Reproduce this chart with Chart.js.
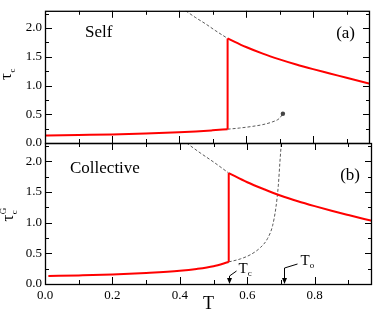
<!DOCTYPE html>
<html><head><meta charset="utf-8">
<script src="https://cdn.jsdelivr.net/npm/chart.js@4"></script>
<style>
html,body{margin:0;padding:0;background:#fff;}
#wrap{position:relative;width:374px;height:311px;overflow:hidden;}
canvas{position:absolute;left:0;top:0;}
#pre{position:absolute;left:-999px;top:0;font-family:"Liberation Serif";font-size:13px;}
</style></head><body>
<span id="pre">0.2 Self τ T</span>
<div id="wrap"><canvas id="c1" width="374" height="311"></canvas><canvas id="c2" width="374" height="311"></canvas></div>
<script>
// ---- data ----
const xTickVals = [0.0, 0.2, 0.4, 0.6, 0.8];
const xMinorVals = [0.1, 0.2, 0.3, 0.4, 0.5, 0.6, 0.7, 0.8, 0.9];
const yTickVals = [0.0, 0.5, 1.0, 1.5, 2.0];
const yMinorVals = [0.25, 0.5, 0.75, 1.0, 1.25, 1.5, 1.75, 2.0, 2.25];

// (a) Self
const selfLowT = [0, 0.1, 0.2, 0.3, 0.4, 0.45, 0.5, 0.545];
const selfLowV = [0.13, 0.14, 0.15, 0.165, 0.185, 0.20, 0.22, 0.24];
const selfHighT = [0.545, 0.6, 0.65, 0.7, 0.75, 0.8, 0.85, 0.9, 0.97];
const selfHighV = [1.82, 1.67, 1.555, 1.455, 1.365, 1.285, 1.21, 1.135, 1.03];
const selfDashUpT = [0.42, 0.45, 0.48, 0.51, 0.545];
const selfDashUpV = [2.3, 2.18, 2.07, 1.95, 1.82];
const selfDashLowT = [0.545, 0.58, 0.62, 0.65, 0.68, 0.70, 0.71];
const selfDashLowV = [0.24, 0.26, 0.29, 0.32, 0.37, 0.43, 0.51];

// (b) Collective
const collLowT = [0.01, 0.1, 0.2, 0.3, 0.4, 0.45, 0.5, 0.545];
const collLowV = [0.13, 0.14, 0.155, 0.18, 0.215, 0.245, 0.29, 0.36];
const collHighT = [0.545, 0.6, 0.65, 0.7, 0.75, 0.8, 0.85, 0.9, 0.97];
const collHighV = [1.81, 1.66, 1.545, 1.44, 1.35, 1.27, 1.195, 1.125, 1.03];
const collDashUpT = [0.42, 0.46, 0.5, 0.545];
const collDashUpV = [2.3, 2.14, 1.99, 1.81];
const collDashLowT = [0.545, 0.58, 0.61, 0.64, 0.66, 0.675, 0.685, 0.692, 0.697, 0.701];
const collDashLowV = [0.36, 0.41, 0.48, 0.60, 0.74, 0.95, 1.25, 1.6, 2.0, 2.3];

// annotations (temperatures marked on the T axis)
const markT = [0.547, 0.708];
const markLabel = ['T', 'T'];
const markSub = ['c', 'o'];

// ---- helpers ----
const SERIF = '"Liberation Serif", "Times New Roman", serif';
const pts = (T, V) => T.map((t, i) => ({x: t, y: V[i]}));
const RED = '#ff0000', GRAY = '#5a5a5a';
function redSet(data){ return {data, borderColor: RED, borderWidth: 2, pointRadius: 0, fill: false, cubicInterpolationMode: 'monotone'}; }
function dashSet(data, extra){ return Object.assign({data, borderColor: GRAY, borderWidth: 1, borderDash: [3, 2], pointRadius: 0, fill: false, cubicInterpolationMode: 'monotone'}, extra || {}); }

function framePlugin(opts){
  return {
    id: 'frame',
    afterDatasetsDraw(chart){
      const {ctx, chartArea: a, scales: {x, y}} = chart;
      ctx.save();
      ctx.strokeStyle = '#000'; ctx.lineWidth = 1;
      ctx.beginPath();
      xMinorVals.forEach(v => {
        const px = Math.round(x.getPixelForValue(v)) + 0.5;
        const L = xTickVals.some(m => Math.abs(m - v) < 1e-9) ? 7 : 4;
        ctx.moveTo(px, a.bottom); ctx.lineTo(px, a.bottom - L);
        ctx.moveTo(px, a.top); ctx.lineTo(px, a.top + L);
      });
      yMinorVals.forEach(v => {
        const py = Math.round(y.getPixelForValue(v)) + 0.5;
        const L = yTickVals.some(m => Math.abs(m - v) < 1e-9) ? 7 : 4;
        ctx.moveTo(a.left, py); ctx.lineTo(a.left + L, py);
        ctx.moveTo(a.right, py); ctx.lineTo(a.right - L, py);
      });
      ctx.stroke();
      ctx.lineWidth = 1.3;
      ctx.strokeRect(a.left + 0.5, a.top + 0.5, a.right - a.left - 1, a.bottom - a.top);
      // panel texts
      ctx.fillStyle = '#000';
      ctx.font = '17px ' + SERIF;
      ctx.textBaseline = 'middle';
      ctx.textAlign = 'left';
      ctx.fillText(opts.name, opts.nameX, a.top + opts.nameDy);
      ctx.textAlign = 'right';
      ctx.fillText(opts.tag, a.right - opts.tagDx, a.top + opts.tagDy);
      // y title: tau with sub/sup, rotated
      const cy = (a.top + a.bottom) / 2;
      ctx.save();
      ctx.translate(opts.titleX, cy + opts.titleDy);
      ctx.rotate(-Math.PI / 2);
      ctx.textAlign = 'left'; ctx.textBaseline = 'alphabetic';
      ctx.font = '17px ' + SERIF;
      ctx.fillText('τ', 0, 0);
      const w = ctx.measureText('τ').width;
      ctx.font = '9px ' + SERIF;
      ctx.fillText('c', w + 0.5, 4);
      if (opts.sup) ctx.fillText(opts.sup, w + 0.5, -7);
      ctx.restore();
      if (opts.annot) {
        const yb = a.bottom;
        ctx.fillStyle = '#000'; ctx.strokeStyle = '#000'; ctx.lineWidth = 1;
        opts.annot.forEach((an, i) => {
          const px = Math.round(x.getPixelForValue(markT[i])) + 0.5;
          ctx.beginPath();
          ctx.moveTo(px + an.dx, yb - an.len - an.dy);
          ctx.lineTo(px, yb - an.len);
          ctx.lineTo(px, yb - 5);
          ctx.stroke();
          ctx.beginPath();
          ctx.moveTo(px, yb); ctx.lineTo(px - 2.5, yb - 6); ctx.lineTo(px + 2.5, yb - 6); ctx.closePath();
          ctx.fill();
          ctx.font = '15px ' + SERIF; ctx.textAlign = 'left'; ctx.textBaseline = 'alphabetic';
          ctx.fillText(markLabel[i], px + an.tx, yb - an.ty);
          const tw = ctx.measureText(markLabel[i]).width;
          ctx.font = '9px ' + SERIF;
          ctx.fillText(markSub[i], px + an.tx + tw, yb - an.ty + 3);
        });
        ctx.font = '18px ' + SERIF; ctx.textAlign = 'center'; ctx.textBaseline = 'middle';
        ctx.fillText('T', (a.left + a.right) / 2, 304);
      }
      ctx.restore();
    }
  };
}

function makeChart(id, datasets, showX, padding, xH, popts){
  return new Chart(document.getElementById(id), {
    type: 'line',
    data: {datasets},
    options: {
      responsive: false, animation: false, devicePixelRatio: 1,
      layout: {padding},
      plugins: {legend: {display: false}, tooltip: {enabled: false}},
      scales: {
        x: {type: 'linear', min: 0, max: 0.97,
            grid: {display: false, drawTicks: false}, border: {display: false},
            ticks: {display: showX, color: '#000', padding: 4, maxRotation: 0, autoSkip: false,
                    font: {family: SERIF, size: 13}, callback: v => Number(v).toFixed(1)},
            afterBuildTicks: s => { s.ticks = xTickVals.map(v => ({value: v})); },
            afterFit: s => { s.height = xH; }},
        y: {type: 'linear', min: 0, max: 2.3,
            grid: {display: false, drawTicks: false}, border: {display: false},
            ticks: {color: '#000', padding: 3, autoSkip: false,
                    font: {family: SERIF, size: 13}, callback: v => Number(v).toFixed(1)},
            afterBuildTicks: s => { s.ticks = yTickVals.map(v => ({value: v})); },
            afterFit: s => { s.width = 45; }}
      }
    },
    plugins: [framePlugin(popts)]
  });
}

function build(){
  Chart.defaults.font.family = SERIF;
  const selfLowPts = pts(selfLowT, selfLowV);
  const selfHighPts = pts(selfHighT, selfHighV);
  const collLowPts = pts(collLowT, collLowV);
  const collHighPts = pts(collHighT, collHighV);
  const selfDashLowPts = pts(selfDashLowT, selfDashLowV);

  makeChart('c1', [
    redSet(selfLowPts),
    redSet([selfLowPts[selfLowPts.length - 1], selfHighPts[0]]),
    redSet(selfHighPts),
    dashSet(pts(selfDashUpT, selfDashUpV)),
    dashSet(selfDashLowPts, {pointRadius: selfDashLowPts.map((p, i) => i === selfDashLowPts.length - 1 ? 2.2 : 0),
                              pointBackgroundColor: '#444', pointBorderColor: '#444', pointBorderWidth: 0})
  ], false, {left: 0, right: 2, top: 1, bottom: 168}, 0,
    {name: 'Self', nameX: 85, nameDy: 22, tag: '(a)', tagDx: 15, tagDy: 23, titleX: 11, titleDy: 3});

  makeChart('c2', [
    redSet(collLowPts),
    redSet([collLowPts[collLowPts.length - 1], collHighPts[0]]),
    redSet(collHighPts),
    dashSet(pts(collDashUpT, collDashUpV)),
    dashSet(pts(collDashLowT, collDashLowV))
  ], true, {left: 0, right: 2, top: 143, bottom: 0}, 27,
    {name: 'Collective', nameX: 70, nameDy: 26, tag: '(b)', tagDx: 12, tagDy: 33, titleX: 13, titleDy: 8, sup: 'G',
     annot: [{len: 8, dx: 7, dy: 5, tx: 9, ty: 11}, {len: 16, dx: 13, dy: 4, tx: 16, ty: 19}]});
}

if (document.fonts && document.fonts.load) {
  Promise.all([document.fonts.load('13px "Liberation Serif"'), document.fonts.load('17px "Liberation Serif"')])
    .then(build, build);
} else { build(); }
</script></body></html>
